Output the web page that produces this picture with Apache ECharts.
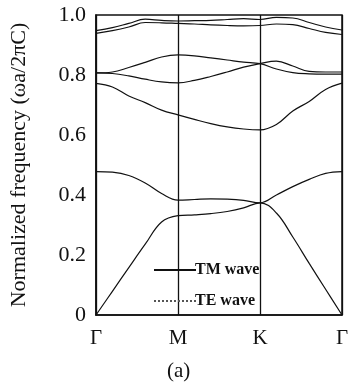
<!DOCTYPE html>
<html>
<head>
<meta charset="utf-8">
<script src="https://cdn.jsdelivr.net/npm/echarts@6/dist/echarts.min.js"></script>
<style>
  html, body { margin: 0; padding: 0; background: #fff; }
  #main { width: 358px; height: 390px; }
</style>
</head>
<body>
<div id="main"></div>
<script>
// k positions along Γ-M-K-Γ (0 = Γ, 1 = M, 2 = K, 3 = Γ)
var kPos = [0, 0.2, 0.4, 0.6, 0.8, 1, 1.2, 1.4, 1.6, 1.8, 2, 2.2, 2.4, 2.6, 2.8, 3];
var kLabels = ['Γ', 'M', 'K', 'Γ'];

// band frequencies (ωa/2πC)
var band1 = [0, 0.079, 0.158, 0.236, 0.31, 0.331, 0.334, 0.338, 0.345, 0.357, 0.374, 0.34, 0.26, 0.172, 0.086, 0];
var band2 = [0.478, 0.476, 0.465, 0.44, 0.405, 0.383, 0.385, 0.387, 0.386, 0.382, 0.374, 0.4, 0.428, 0.452, 0.472, 0.478];
var band3 = [0.772, 0.76, 0.73, 0.708, 0.683, 0.667, 0.652, 0.638, 0.627, 0.62, 0.617, 0.635, 0.68, 0.712, 0.752, 0.773];
var band4 = [0.807, 0.805, 0.797, 0.786, 0.777, 0.774, 0.782, 0.795, 0.81, 0.826, 0.838, 0.846, 0.83, 0.812, 0.81, 0.81];
var band5 = [0.807, 0.81, 0.825, 0.842, 0.86, 0.867, 0.864, 0.857, 0.85, 0.843, 0.838, 0.82, 0.808, 0.804, 0.803, 0.803];
var band6 = [0.939, 0.948, 0.96, 0.975, 0.974, 0.972, 0.97, 0.967, 0.965, 0.964, 0.965, 0.97, 0.968, 0.955, 0.942, 0.935];
var band7 = [0.948, 0.958, 0.972, 0.986, 0.982, 0.98, 0.981, 0.982, 0.985, 0.988, 0.985, 0.992, 0.99, 0.975, 0.96, 0.95];

var bands = [band1, band2, band3, band4, band5, band6, band7];

var serif = '"Liberation Serif", "DejaVu Serif", serif';

var series = bands.map(function (b) {
    return {
        name: 'TM wave',
        type: 'line',
        smooth: 0.4,
        symbol: 'none',
        silent: true,
        lineStyle: { color: '#111', width: 1.2, type: 'solid' },
        itemStyle: { color: '#111' },
        data: b.map(function (v, i) { return [kPos[i], v]; })
    };
});
// TE wave only shows in the legend
series.push({
    name: 'TE wave',
    type: 'line',
    symbol: 'none',
    lineStyle: { color: '#555', width: 1, type: 'dotted' },
    itemStyle: { color: '#555' },
    data: []
});

var myChart = echarts.init(document.getElementById('main'));
var option = {
    backgroundColor: '#fff',
    animation: false,
    title: {
        text: '(a)',
        left: 167,
        top: 361,
        padding: 0,
        textStyle: { fontFamily: serif, fontSize: 21, fontWeight: 'normal', color: '#111' }
    },
    legend: {
        data: [
            { name: 'TM wave', itemStyle: { opacity: 0 }, lineStyle: { width: 1.8, color: '#111' } },
            { name: 'TE wave', itemStyle: { opacity: 0 } }
        ],
        orient: 'vertical',
        left: 148,
        top: 257,
        itemWidth: 42,
        itemHeight: 14,
        itemGap: 15,
        selectedMode: false,
        textStyle: { fontFamily: serif, fontSize: 16, fontWeight: 'bold', color: '#111', padding: [0, 0, 0, -6] }
    },
    grid: {
        left: 92, right: 16, top: 15, bottom: 75,
        show: true, borderColor: '#111', borderWidth: 1.5, backgroundColor: 'transparent'
    },
    xAxis: {
        type: 'value',
        min: 0, max: 3, interval: 1,
        axisLine: { show: true, lineStyle: { color: '#111', width: 1.5 } },
        axisTick: { show: false },
        splitLine: { show: true, lineStyle: { color: '#111', width: 1.3 } },
        axisLabel: {
            margin: 13,
            fontFamily: serif, fontSize: 21, color: '#111',
            formatter: function (v) { return kLabels[Math.round(v)]; }
        }
    },
    yAxis: {
        type: 'value',
        min: 0, max: 1, interval: 0.2,
        name: 'Normalized frequency (ωa/2πC)',
        nameLocation: 'middle',
        nameRotate: 90,
        nameGap: 66,
        nameTextStyle: { fontFamily: serif, fontSize: 22, color: '#111' },
        axisLine: { show: true, lineStyle: { color: '#111', width: 1.5 } },
        axisTick: { show: false },
        splitLine: { show: false },
        axisLabel: {
            margin: 10,
            fontFamily: serif, fontSize: 22, color: '#111',
            formatter: function (v) {
                if (v === 0) { return '0'; }
                return v.toFixed(1);
            }
        }
    },
    series: series
};
myChart.clear();
myChart.setOption(option);
</script>
</body>
</html>
